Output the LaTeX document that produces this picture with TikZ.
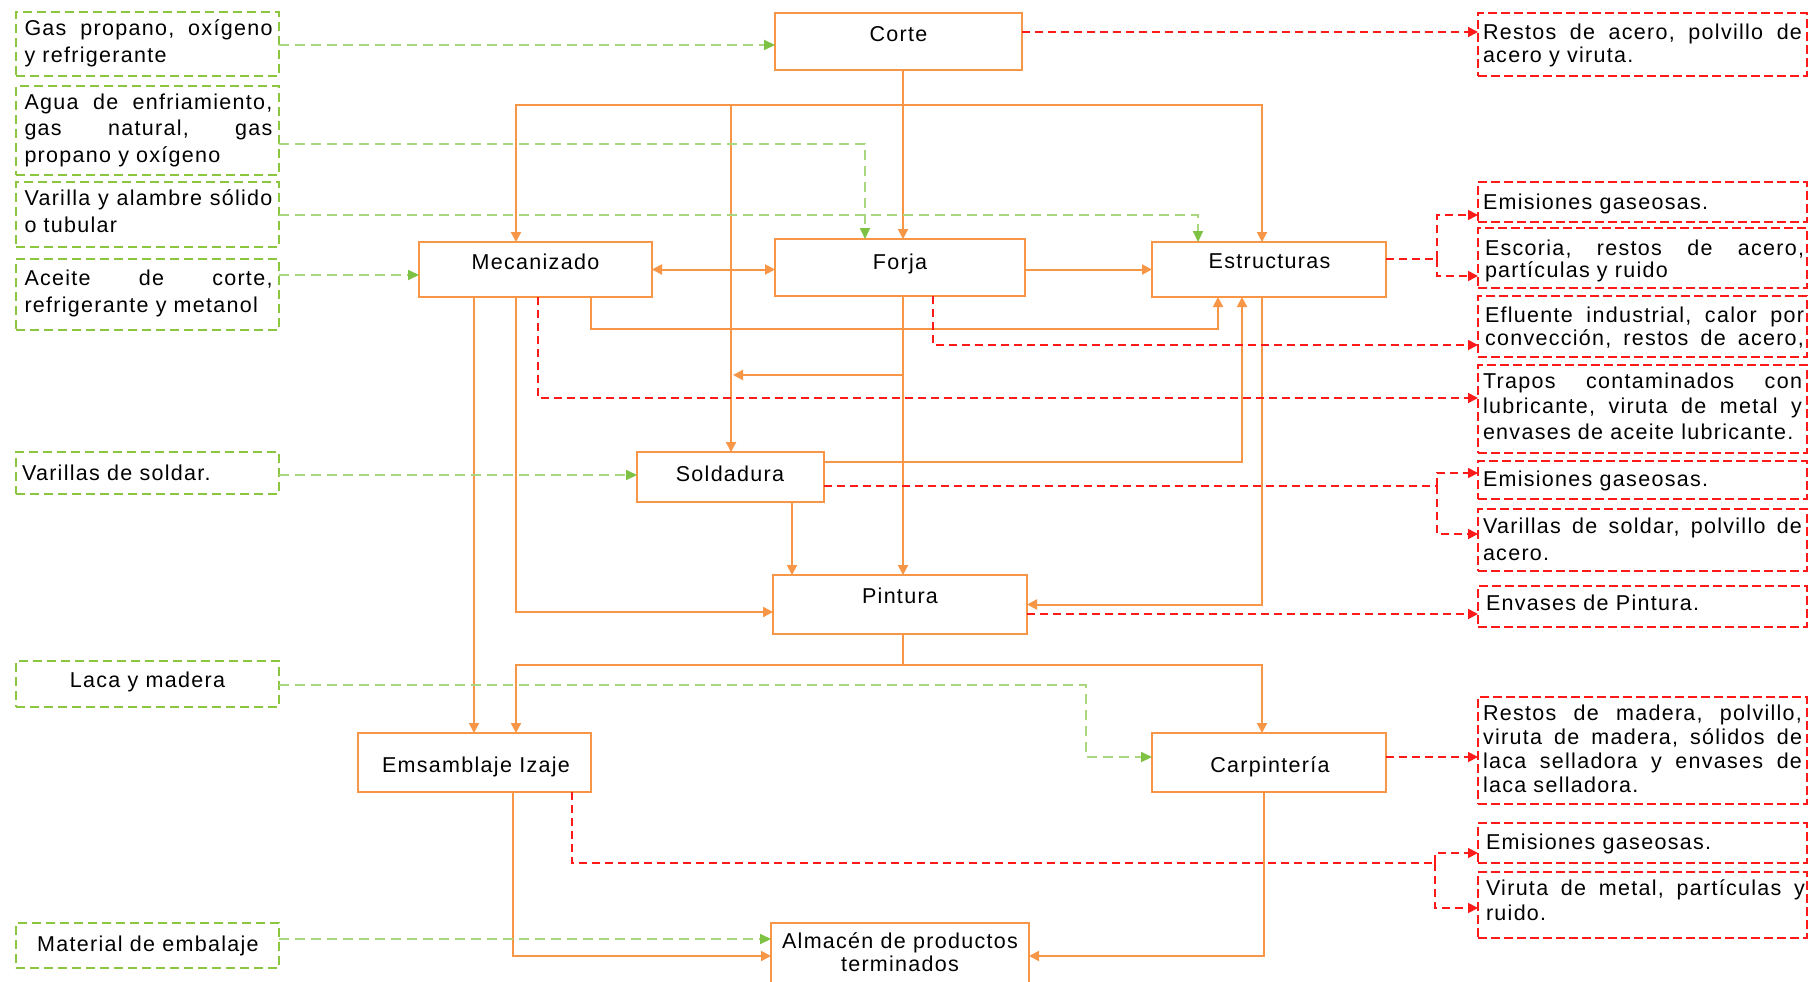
\documentclass[tikz,border=0pt]{standalone}
\usepackage{fontspec}
\setmainfont{Liberation Sans}[LetterSpace=6]
\usetikzlibrary{arrows.meta,calc}
\definecolor{oran}{HTML}{F79646}
\definecolor{grnl}{HTML}{A9D67F}
\definecolor{grnb}{HTML}{8CC63F}
\definecolor{grna}{HTML}{7DC242}
\definecolor{rd}{HTML}{FF1A1A}
\newcommand\jg[1]{\leavevmode\makebox[248pt][l]{#1}}
\newcommand\jr[1]{\leavevmode\makebox[319pt][l]{#1}}
\newcommand\fl{\noindent\rule{0pt}{17pt}}
\newcommand\hf{\hfill}
\begin{document}
\begin{tikzpicture}[x=1pt,y=-1pt,
  every node/.style={inner sep=0pt, outer sep=0pt},
  proc/.style={draw=oran, line width=1.8pt, fill=white, rectangle},
  inbox/.style={draw=grnb, line width=1.4pt, dash pattern=on 9pt off 5pt, fill=white, rectangle, minimum width=263},
  outbox/.style={draw=rd, line width=1.6pt, dash pattern=on 9pt off 4pt, fill=white, rectangle, minimum width=329},
  txt/.style={font=\fontsize{21.5}{#1}\selectfont, text=black},
  txt/.default=26,
  gtxt/.style={txt=#1, text width=248, align=left, anchor=north west},
  rtxt/.style={txt=#1, text width=319, align=left, anchor=north west},
  oline/.style={draw=oran, line width=2pt, -{Triangle[length=10pt,width=10pt]}},
  obi/.style={draw=oran, line width=2pt, {Triangle[length=10pt,width=10pt]}-{Triangle[length=10pt,width=10pt]}},
  oseg/.style={draw=oran, line width=2pt},
  gline/.style={draw=grnl, line width=2pt, dash pattern=on 10pt off 6pt, -{Triangle[length=11pt,width=10pt,color=grna]}},
  rline/.style={draw=rd, line width=1.8pt, dash pattern=on 8pt off 5pt, -{Triangle[length=10pt,width=10pt]}},
  rseg/.style={draw=rd, line width=1.8pt, dash pattern=on 8pt off 5pt}
]
\fill[white] (0,0) rectangle (1810,982);
\useasboundingbox (0,0) rectangle (1810,982);

% process boxes
\node[proc, minimum width=247, minimum height=57] (corte) at (898.5,41.5) {};
\node[proc, minimum width=233, minimum height=55] (meca) at (535.5,269.5) {};
\node[proc, minimum width=250, minimum height=57] (forja) at (900,267.5) {};
\node[proc, minimum width=234, minimum height=55] (estr) at (1269,269.5) {};
\node[proc, minimum width=187, minimum height=50] (sold) at (730.5,477) {};
\node[proc, minimum width=254, minimum height=59] (pint) at (900,604.5) {};
\node[proc, minimum width=233, minimum height=59] (ensam) at (474.5,762.5) {};
\node[proc, minimum width=234, minimum height=59] (carp) at (1269,762.5) {};
\node[proc, minimum width=258, minimum height=72] (alm) at (900,959) {};

% input boxes
\node[inbox, minimum height=64] (g1) at (147.5,44) {};
\node[inbox, minimum height=89] (g2) at (147.5,130.5) {};
\node[inbox, minimum height=65] (g3) at (147.5,214.5) {};
\node[inbox, minimum height=71] (g4) at (147.5,294.5) {};
\node[inbox, minimum height=42] (g5) at (147.5,473) {};
\node[inbox, minimum height=46] (g6) at (147.5,684) {};
\node[inbox, minimum height=45] (g7) at (147.5,945.5) {};

% output boxes
\node[outbox, minimum height=63] (r1) at (1642.5,44.5) {};
\node[outbox, minimum height=40] (r2) at (1642.5,202) {};
\node[outbox, minimum height=60] (r3) at (1642.5,258) {};
\node[outbox, minimum height=61] (r4) at (1642.5,326.5) {};
\node[outbox, minimum height=88] (r5) at (1642.5,409) {};
\node[outbox, minimum height=38] (r6) at (1642.5,480) {};
\node[outbox, minimum height=62] (r7) at (1642.5,540) {};
\node[outbox, minimum height=41] (r8) at (1642.5,606.5) {};
\node[outbox, minimum height=107] (r9) at (1642.5,750.5) {};
\node[outbox, minimum height=40] (r10) at (1642.5,843) {};
\node[outbox, minimum height=66] (r11) at (1642.5,905) {};

% process texts
\node[txt, anchor=base] (cortet) at (898.5,41.7) {Corte};
\node[txt, anchor=base] (mecat) at (535.5,269) {Mecanizado};
\node[txt, anchor=base] (forjat) at (900,269) {Forja};
\node[txt, anchor=base] (estrt) at (1269.5,268) {Estructuras};
\node[txt, anchor=base] (soldt) at (730,481) {Soldadura};
\node[txt, anchor=base] (pintt) at (900,603) {Pintura};
\node[txt, anchor=base] (ensamt) at (476,772) {Emsamblaje Izaje};
\node[txt, anchor=base] (carpt) at (1270,772) {Carpintería};
\node[txt, anchor=base] (almta) at (900,948) {Almacén de productos};
\node[txt, anchor=base] (almtb) at (900,971.7) {terminados};

% input texts
\node[gtxt=27] (g1t) at (24.5,19) {\fl\jg{Gas\hf propano,\hf oxígeno}\\y refrigerante};
\node[gtxt=26] (g2t) at (24.5,93) {\fl\jg{Agua\hf de\hf enfriamiento,}\\\jg{gas\hf natural,\hf gas}\\propano y oxígeno};
\node[gtxt=27] (g3t) at (24.5,188) {\fl\jg{Varilla\hf y\hf alambre\hf sólido}\\o tubular};
\node[gtxt=27] (g4t) at (24.5,268) {\fl\jg{Aceite\hf de\hf corte,}\\refrigerante y metanol};
\node[txt, anchor=base west] (g5t) at (22,480.7) {Varillas de soldar.};
\node[txt, anchor=base] (g6t) at (147.5,687.7) {Laca y madera};
\node[txt, anchor=base] (g7t) at (148,951) {Material de embalaje};

% output texts
\node[rtxt=23] (r1t) at (1483,23) {\fl\jr{Restos\hf de\hf acero,\hf polvillo\hf de}\\acero y viruta.};
\node[txt, anchor=base west] (r2t) at (1483,209.3) {Emisiones gaseosas.};
\node[rtxt=22.5] (r3t) at (1485,238) {\fl\jr{Escoria,\hf restos\hf de\hf acero,}\\partículas y ruido};
\node[rtxt=23] (r4t) at (1485,305.7) {\fl\jr{Efluente\hf industrial,\hf calor\hf por}\\\jr{convección,\hf restos\hf de\hf acero,}};
\node[rtxt=25.5] (r5t) at (1483,371) {\fl\jr{Trapos\hf contaminados\hf con}\\\jr{lubricante,\hf viruta\hf de\hf metal\hf y}\\envases de aceite lubricante.};
\node[txt, anchor=base west] (r6t) at (1483,486.7) {Emisiones gaseosas.};
\node[rtxt=26.7] (r7t) at (1483,516.3) {\fl\jr{Varillas\hf de\hf soldar,\hf polvillo\hf de}\\acero.};
\node[txt, anchor=base west] (r8t) at (1486,610.7) {Envases de Pintura.};
\node[rtxt=24] (r9t) at (1483,703) {\fl\jr{Restos\hf de\hf madera,\hf polvillo,}\\\jr{viruta\hf de\hf madera,\hf sólidos\hf de}\\\jr{laca\hf selladora\hf y\hf envases\hf de}\\laca selladora.};
\node[txt, anchor=base west] (r10t) at (1486,849.3) {Emisiones gaseosas.};
\node[rtxt=25.7] (r11t) at (1486,878) {\fl\jr{Viruta\hf de\hf metal,\hf partículas\hf y}\\ruido.};

% coordinates for junctions
\coordinate (t1) at (903,105);
\coordinate (t2) at (731,105);
\coordinate (b1) at (903,375);
\coordinate (b2) at (733,375);
\coordinate (p1) at (903,665);
\coordinate (gb6) at (1086,757);
\coordinate (rb1) at (1437,259);
\coordinate (rb2) at (1437,486);
\coordinate (rb3) at (1435,863);

% orange flows
\draw[oline] ([xshift=4.5]corte.south) -- ([xshift=3]forja.north);
\draw[oline] (t1) -| ([xshift=-19.5]meca.north);
\draw[oline] (t1) -| ([xshift=-7]estr.north);
\draw[oline] (t2) -- (t2 |- sold.north);
\draw[obi] (meca.east) -- (meca.east -| forja.west);
\draw[oline] (forja.east |- 0,269.5) -- (estr.west);
\draw[oline] ([xshift=55.5]meca.south) -- ++(0,32) -| ([xshift=-51]estr.south);
\draw[oline] (sold.east |- 0,462) -| ([xshift=-27]estr.south);
\draw[oline] ([xshift=3]forja.south) -- ([xshift=3]pint.north);
\draw[oline] (b1) -- (b2);
\draw[oline] ([xshift=61.5]sold.south) -- ([xshift=-108]pint.north);
\draw[oline] ([xshift=-7]estr.south) |- (pint.east);
\draw[oline] ([xshift=-19.5]meca.south) |- (pint.west |- 0,612);
\draw[oline] ([xshift=-61.5]meca.south) -- ([xshift=-61.5]meca.south |- ensam.north);
\draw[oseg] ([xshift=3]pint.south) -- (p1);
\draw[oline] (p1) -| ([xshift=41.5]ensam.north);
\draw[oline] (p1) -| ([xshift=-7]carp.north);
\draw[oline] ([xshift=38.5]ensam.south) |- (alm.west |- 0,956);
\draw[oline] ([xshift=-5]carp.south) |- (alm.east |- 0,956);

% green inputs
\draw[gline] (g1.east |- 0,45) -- (corte.west |- 0,45);
\draw[gline] (g2.east |- 0,144) -| ([xshift=-35]forja.north);
\draw[gline] (g3.east |- 0,215) -| ([xshift=-71]estr.north);
\draw[gline] (g4.east |- 0,275) -- (meca.west |- 0,275);
\draw[gline] (g5.east |- 0,475) -- (sold.west |- 0,475);
\draw[gline] (g6.east |- 0,685) -| (gb6) -- (carp.west |- gb6);
\draw[gline] (g7.east |- 0,939) -- (alm.west |- 0,939);

% red outputs
\draw[rline] (corte.east |- 0,32) -- (r1.west |- 0,32);
\draw[rseg] (estr.east |- rb1) -- (rb1);
\draw[rline] (rb1) |- (r2.west |- 0,215);
\draw[rline] (rb1) |- (r3.west |- 0,276);
\draw[rline] ([xshift=33]forja.south) |- (r4.west |- 0,345);
\draw[rline] ([xshift=2.5]meca.south) |- (r5.west |- 0,398);
\draw[rseg] (sold.east |- rb2) -- (rb2);
\draw[rline] (rb2) |- (r6.west |- 0,473);
\draw[rline] (rb2) |- (r7.west |- 0,534);
\draw[rline] (pint.east |- 0,614) -- (r8.west |- 0,614);
\draw[rline] (carp.east |- 0,757) -- (r9.west |- 0,757);
\draw[rseg] ([xshift=97.5]ensam.south) |- (rb3);
\draw[rline] (rb3) |- (r10.west |- 0,853);
\draw[rline] (rb3) |- (r11.west |- 0,908);
\end{tikzpicture}
\end{document}
